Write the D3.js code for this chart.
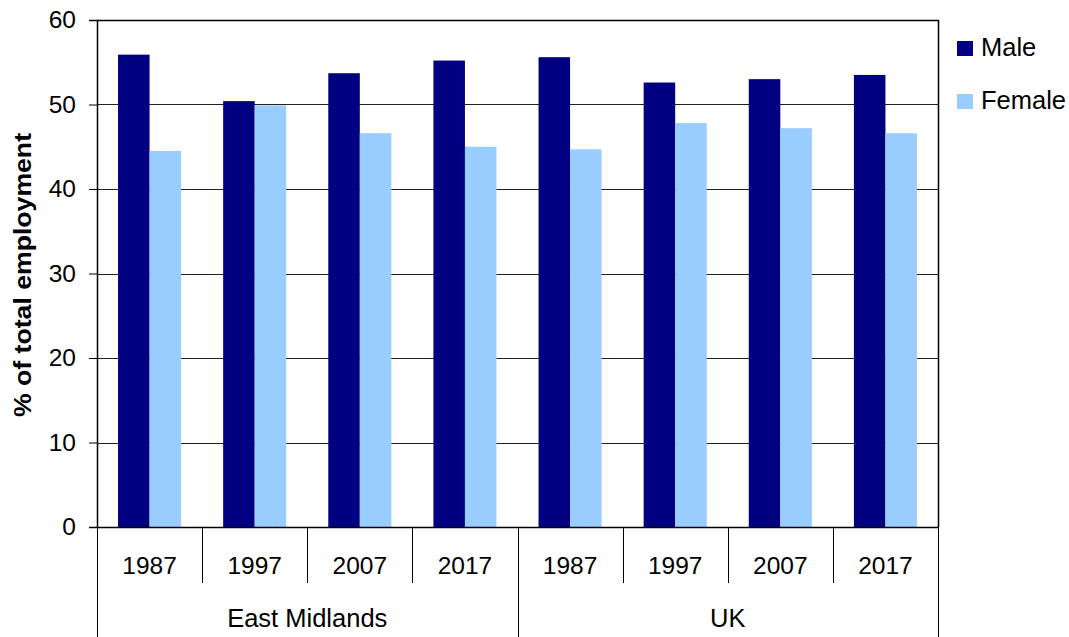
<!DOCTYPE html>
<html>
<head>
<meta charset="utf-8">
<script src="https://cdn.jsdelivr.net/npm/d3@7"></script>
<style>
  html, body { margin: 0; padding: 0; background: #fff; }
  svg { display: block; font-family: "Liberation Sans", Arial, sans-serif; }
</style>
</head>
<body>
<div id="chart"></div>
<script>
// 資料
const groups = ["East Midlands", "UK"];
const years = ["1987", "1997", "2007", "2017"];
const seriesNames = ["Male", "Female"];
const seriesColors = ["#000080", "#99ccff"];
const maleValues = [55.9, 50.4, 53.7, 55.2, 55.6, 52.6, 53.0, 53.5];
const femaleValues = [44.5, 49.9, 46.6, 45.0, 44.7, 47.8, 47.2, 46.6];
const yTicks = [0, 10, 20, 30, 40, 50, 60];

const width = 1069, height = 637;
const plotLeft = 97, plotRight = 938, plotTop = 20, plotBottom = 527;

const svg = d3.select("#chart").append("svg")
    .attr("width", width)
    .attr("height", height);

// 類別: 每組每年
const cats = [];
groups.forEach(g => years.forEach(y => cats.push(g + "|" + y)));

const x = d3.scaleBand().domain(cats).range([plotLeft, plotRight]).padding(0);
const xInner = d3.scaleBand().domain(seriesNames)
    .range([0, x.bandwidth()]).paddingInner(0).paddingOuter(0.667);
const y = d3.scaleLinear().domain([0, 60]).range([plotBottom, plotTop]);

// 格線
svg.append("g").selectAll("line")
    .data(yTicks.filter(t => t > 0))
    .enter().append("line")
    .attr("x1", plotLeft).attr("x2", plotRight)
    .attr("y1", d => Math.round(y(d)) + 0.5)
    .attr("y2", d => Math.round(y(d)) + 0.5)
    .attr("stroke", "#222")
    .attr("stroke-width", 1);

// 長條
const rows = cats.map((c, i) => ({ cat: c, values: [maleValues[i], femaleValues[i]] }));
const catG = svg.append("g").selectAll("g")
    .data(rows).enter().append("g")
    .attr("transform", d => `translate(${x(d.cat)},0)`);
catG.selectAll("rect")
    .data(d => d.values.map((v, i) => ({ name: seriesNames[i], value: v, color: seriesColors[i] })))
    .enter().append("rect")
    .attr("x", d => xInner(d.name))
    .attr("width", xInner.bandwidth())
    .attr("y", d => y(d.value))
    .attr("height", d => y(0) - y(d.value))
    .attr("fill", d => d.color);

// 外框 (上 / 右)
svg.append("path")
    .attr("d", `M${plotLeft},${plotTop + 0.5}H${plotRight + 0.5}V${plotBottom}`)
    .attr("fill", "none").attr("stroke", "#000").attr("stroke-width", 1.5);

// Y 軸
const yAxis = svg.append("g").attr("transform", `translate(${plotLeft},0)`)
    .call(d3.axisLeft(y).tickValues(yTicks).tickSize(8).tickPadding(13));
yAxis.select(".domain").attr("stroke", "#000").attr("stroke-width", 1.5);
yAxis.selectAll(".tick line").attr("stroke", "#000");
yAxis.selectAll("text").attr("font-size", 24.5).attr("fill", "#000")
    .attr("font-family", "Liberation Sans, Arial, sans-serif");

// X 軸基線
svg.append("line")
    .attr("x1", plotLeft).attr("x2", plotRight)
    .attr("y1", plotBottom + 0.5).attr("y2", plotBottom + 0.5)
    .attr("stroke", "#000").attr("stroke-width", 1.5);

// 年份分隔線
const yearLineEnd = 583;
const catEdges = cats.map(c => x(c)).concat([plotRight]);
svg.append("g").selectAll("line")
    .data(catEdges)
    .enter().append("line")
    .attr("x1", d => Math.round(d) + 0.5).attr("x2", d => Math.round(d) + 0.5)
    .attr("y1", plotBottom).attr("y2", (d, i) => (i % years.length === 0 || i === cats.length) ? height : yearLineEnd)
    .attr("stroke", "#000").attr("stroke-width", 1);

// 年份標籤
svg.append("g").selectAll("text")
    .data(cats).enter().append("text")
    .attr("x", d => x(d) + x.bandwidth() / 2)
    .attr("y", 574)
    .attr("text-anchor", "middle")
    .attr("font-size", 24.5)
    .text(d => d.split("|")[1]);

// 組別標籤
svg.append("g").selectAll("text")
    .data(groups).enter().append("text")
    .attr("x", g => (x(g + "|" + years[0]) + x(g + "|" + years[years.length - 1]) + x.bandwidth()) / 2)
    .attr("y", 627)
    .attr("text-anchor", "middle")
    .attr("font-size", 25.5)
    .text(g => g);

// Y 軸標題
svg.append("text")
    .attr("transform", `translate(31,275) rotate(-90)`)
    .attr("text-anchor", "middle")
    .attr("font-size", 23)
    .attr("font-weight", "bold")
    .attr("textLength", 284)
    .attr("lengthAdjust", "spacingAndGlyphs")
    .text("% of total employment");

// 圖例
const legend = svg.append("g").selectAll("g")
    .data(seriesNames).enter().append("g")
    .attr("transform", (d, i) => `translate(957,${41 + i * 53})`);
legend.append("rect")
    .attr("width", 16).attr("height", 15)
    .attr("fill", (d, i) => seriesColors[i]);
legend.append("text")
    .attr("x", 24).attr("y", 15)
    .attr("font-size", 25.5)
    .text(d => d);
</script>
</body>
</html>
